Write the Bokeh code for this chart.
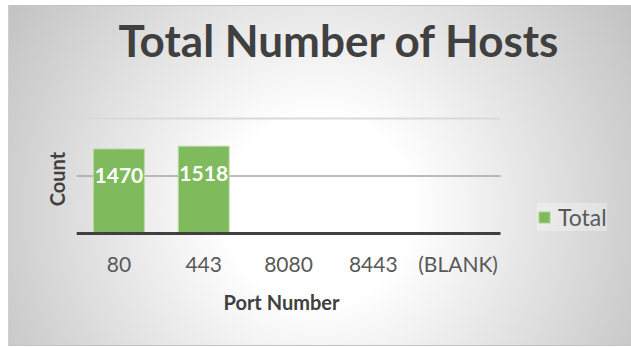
from bokeh.plotting import figure
from bokeh.models import (ColumnDataSource, Range1d, FixedTicker, Legend,
                          LegendItem, Title)
from bokeh.core.properties import value
from bokeh.embed import file_html
from bokeh.resources import INLINE

# ---- data ----
ports = ["80", "443", "8080", "8443", "(BLANK)"]
counts = [1470, 1518, None, None, None]
y_ticks_major = [1000]
y_ticks_top = [2000]
y_max = 2000

pos = [i + 0.5 for i in range(len(ports))]
bar_x = [x for x, c in zip(pos, counts) if c is not None]
bar_counts = [c for c in counts if c is not None]
src = ColumnDataSource(dict(x=bar_x, count=bar_counts,
                            label=[str(c) for c in bar_counts]))

FONT = "Lato"
PX_PER_CAT = 84.8
FRAME_W = 631 - 76
PX_PER_UNIT = 115 / y_max

p = figure(width=631, height=347, title=None,
           x_range=Range1d(0, FRAME_W / PX_PER_CAT),
           y_range=Range1d(-8 / PX_PER_UNIT, y_max + 2 / PX_PER_UNIT),
           output_backend="svg", toolbar_location=None,
           min_border_left=76, min_border_right=0, min_border_top=116,
           min_border_bottom=106)

p.styles = {
    "background": (
        "linear-gradient(#c4c4c4,#c4c4c4) 8px 5px / 623px 1px no-repeat, "
        "linear-gradient(#cfcfcf,#cfcfcf) 8px 5px / 1px 341px no-repeat, "
        "linear-gradient(#c4c4c4,#c4c4c4) 8px 345px / 623px 1px no-repeat, "
        "radial-gradient(circle farthest-corner at 50% 60%, #ffffff 0%, "
        "#ffffff 25%, #c2c2c2 100%) 8px 5px / 623px 341px no-repeat, #ffffff"
    )
}
p.border_fill_color = None
p.background_fill_color = None
p.outline_line_color = None

# spacer (closest to frame) then real title
p.add_layout(Title(text=" ", text_font_size="10px", standoff=33), "above")
p.add_layout(Title(text="Total Number of Hosts", text_font=FONT,
                   text_font_style="bold", text_font_size="44px",
                   text_color="#404040", align="left", offset=42,
                   standoff=10), "above")

# gridlines (stop at the end of the category area)
p.xgrid.grid_line_color = None
p.ygrid.grid_line_color = None
p.segment(x0=0, x1=len(ports), y0=y_ticks_top, y1=y_ticks_top,
          line_color="#d9d9d9", line_width=2)
p.segment(x0=0, x1=len(ports), y0=y_ticks_major, y1=y_ticks_major,
          line_color="#a6a6a6", line_width=1.5)

# bars
bars = p.vbar(x="x", top="count", width=0.6, source=src,
              fill_color="#7fba5d", line_color="#b8dba0", line_width=1)

# baseline (category axis line)
p.segment(x0=0, x1=len(ports), y0=0, y1=0, line_color="#404040",
          line_width=3)

# data labels
p.text(x="x", y="count", text="label", source=src,
       text_font=value(FONT), text_font_style="bold", text_font_size="21px",
       text_color="white", text_align="center", text_baseline="middle",
       y_offset=27)

# x axis
xa = p.xaxis[0]
xa.ticker = FixedTicker(ticks=pos)
xa.major_label_overrides = {x: lab for x, lab in zip(pos, ports)}
xa.axis_line_color = None
xa.major_tick_line_color = None
xa.minor_tick_line_color = None
xa.major_label_text_font = FONT
xa.major_label_text_font_size = "21px"
xa.major_label_text_color = "#595959"
xa.major_label_standoff = 3

# x axis title (under the category area)
p.add_layout(Title(text="Port Number", text_font=FONT,
                   text_font_style="bold", text_font_size="20px",
                   text_color="#404040", align="left", offset=147,
                   standoff=19), "below")

# y axis
ya = p.yaxis[0]
ya.ticker = FixedTicker(ticks=y_ticks_major)
ya.axis_line_color = None
ya.major_tick_line_color = None
ya.minor_tick_line_color = None
ya.major_label_overrides = {t: "" for t in y_ticks_major}
ya.major_label_standoff = 0
ya.axis_label = "Count"
ya.axis_label_text_font = FONT
ya.axis_label_text_font_style = "bold"
ya.axis_label_text_font_size = "20px"
ya.axis_label_text_color = "#404040"
ya.axis_label_standoff = 2

# legend (inside the wide frame, right of the category area)
legend = Legend(items=[LegendItem(label="Total", renderers=[bars])],
                location=(461, 10), orientation="vertical",
                label_text_font=FONT, label_text_font_size="23px",
                label_text_color="#595959", glyph_width=14, glyph_height=14,
                label_standoff=7, padding=10, margin=0, spacing=0,
                background_fill_color="#ffffff", background_fill_alpha=0.3,
                border_line_color=None)
p.add_layout(legend)

open("out.html", "w").write(file_html(p, INLINE))
